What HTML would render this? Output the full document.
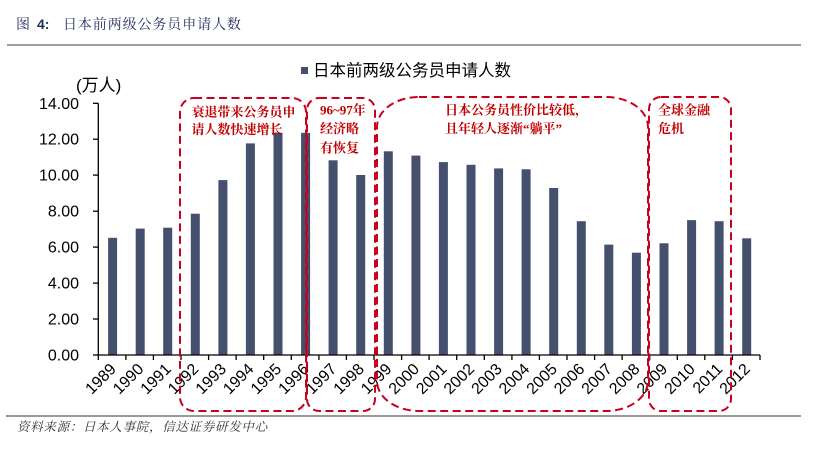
<!DOCTYPE html>
<html>
<head>
<meta charset="utf-8">
<style>
  html, body { margin:0; padding:0; background:#fff; }
  body { width:822px; height:451px; overflow:hidden; }
  svg { display:block; }
  .ax { font-family:"Liberation Sans", Arial, sans-serif; font-size:16px; fill:#000; }
  .ann { font-family:"Liberation Serif", "Noto Serif CJK SC", serif; font-size:13px; font-weight:bold; fill:#c00000; }
</style>
</head>
<body>
<svg width="822" height="451" viewBox="0 0 822 451" xmlns="http://www.w3.org/2000/svg">
  <!-- Title -->
  <text x="16" y="29" font-family="'Noto Serif CJK SC', serif" font-size="14" fill="#1f2f5e">图</text>
  <text x="37" y="29" font-family="'Liberation Sans', sans-serif" font-size="14" font-weight="bold" fill="#1f2f5e">4:</text>
  <text x="63" y="29" font-family="'Liberation Serif','Noto Serif CJK SC', serif" font-size="14" letter-spacing="0.9" fill="#1f2f5e">日本前两级公务员申请人数</text>
  <line x1="7" y1="45" x2="801" y2="45" stroke="#666" stroke-width="1.3"/>

  <!-- Legend -->
  <rect x="301" y="67" width="7" height="7" fill="#454f6e"/>
  <text x="313" y="76" font-family="'Liberation Sans','Noto Sans CJK SC', sans-serif" font-size="16.5" fill="#000">日本前两级公务员申请人数</text>

  <!-- Unit -->
  <text x="76" y="91" font-family="'Liberation Sans','Noto Sans CJK SC', sans-serif" font-size="17" fill="#000">(万人)</text>

  <!-- Y labels -->
  <g class="ax" text-anchor="end">
    <text x="79" y="360.5">0.00</text>
    <text x="79" y="324.5">2.00</text>
    <text x="79" y="288.6">4.00</text>
    <text x="79" y="252.6">6.00</text>
    <text x="79" y="216.7">8.00</text>
    <text x="79" y="180.6">10.00</text>
    <text x="79" y="144.7">12.00</text>
    <text x="79" y="108.8">14.00</text>
  </g>

  <!-- Bars -->
  <g fill="#454f6e">
    <rect x="108.1" y="237.8" width="9" height="117.2"/>
    <rect x="135.7" y="228.6" width="9" height="126.4"/>
    <rect x="163.2" y="227.7" width="9" height="127.3"/>
    <rect x="190.8" y="213.7" width="9" height="141.3"/>
    <rect x="218.4" y="180.1" width="9" height="174.9"/>
    <rect x="245.9" y="143.4" width="9" height="211.6"/>
    <rect x="273.5" y="132.8" width="9" height="222.2"/>
    <rect x="301.1" y="132.8" width="9" height="222.2"/>
    <rect x="328.6" y="160.3" width="9" height="194.7"/>
    <rect x="356.2" y="175.0" width="9" height="180.0"/>
    <rect x="383.8" y="151.3" width="9" height="203.7"/>
    <rect x="411.4" y="155.6" width="9" height="199.4"/>
    <rect x="438.9" y="162.1" width="9" height="192.9"/>
    <rect x="466.5" y="164.8" width="9" height="190.2"/>
    <rect x="494.1" y="168.4" width="9" height="186.6"/>
    <rect x="521.6" y="169.3" width="9" height="185.7"/>
    <rect x="549.2" y="188.0" width="9" height="167.0"/>
    <rect x="576.8" y="221.2" width="9" height="133.8"/>
    <rect x="604.3" y="244.6" width="9" height="110.4"/>
    <rect x="631.9" y="252.7" width="9" height="102.3"/>
    <rect x="659.5" y="243.3" width="9" height="111.7"/>
    <rect x="687.1" y="220.1" width="9" height="134.9"/>
    <rect x="714.6" y="221.2" width="9" height="133.8"/>
    <rect x="742.2" y="238.3" width="9" height="116.7"/>
  </g>

  <!-- Axes -->
  <g stroke="#000" stroke-width="1.3" fill="none">
    <line x1="98.3" y1="103.3" x2="98.3" y2="355"/>
    <line x1="98.3" y1="355" x2="760" y2="355"/>
    <line x1="93" y1="355" x2="98.3" y2="355"/>
    <line x1="93" y1="319" x2="98.3" y2="319"/>
    <line x1="93" y1="283.1" x2="98.3" y2="283.1"/>
    <line x1="93" y1="247.1" x2="98.3" y2="247.1"/>
    <line x1="93" y1="211.2" x2="98.3" y2="211.2"/>
    <line x1="93" y1="175.1" x2="98.3" y2="175.1"/>
    <line x1="93" y1="139.2" x2="98.3" y2="139.2"/>
    <line x1="93" y1="103.3" x2="98.3" y2="103.3"/>
    <path d="M98.3 355v5 M125.9 355v5 M153.4 355v5 M181 355v5 M208.6 355v5 M236.1 355v5 M263.7 355v5 M291.3 355v5 M318.9 355v5 M346.4 355v5 M374 355v5 M401.6 355v5 M429.1 355v5 M456.7 355v5 M484.3 355v5 M511.9 355v5 M539.4 355v5 M567 355v5 M594.6 355v5 M622.1 355v5 M649.7 355v5 M677.3 355v5 M704.8 355v5 M732.4 355v5 M760 355v5"/>
  </g>

  <!-- X labels -->
  <g class="ax" text-anchor="end">
    <text transform="translate(116.9,370) rotate(-45)">1989</text>
    <text transform="translate(144.5,370) rotate(-45)">1990</text>
    <text transform="translate(172.0,370) rotate(-45)">1991</text>
    <text transform="translate(199.6,370) rotate(-45)">1992</text>
    <text transform="translate(227.2,370) rotate(-45)">1993</text>
    <text transform="translate(254.7,370) rotate(-45)">1994</text>
    <text transform="translate(282.3,370) rotate(-45)">1995</text>
    <text transform="translate(309.9,370) rotate(-45)">1996</text>
    <text transform="translate(337.4,370) rotate(-45)">1997</text>
    <text transform="translate(365.0,370) rotate(-45)">1998</text>
    <text transform="translate(392.6,370) rotate(-45)">1999</text>
    <text transform="translate(420.2,370) rotate(-45)">2000</text>
    <text transform="translate(447.7,370) rotate(-45)">2001</text>
    <text transform="translate(475.3,370) rotate(-45)">2002</text>
    <text transform="translate(502.9,370) rotate(-45)">2003</text>
    <text transform="translate(530.4,370) rotate(-45)">2004</text>
    <text transform="translate(558.0,370) rotate(-45)">2005</text>
    <text transform="translate(585.6,370) rotate(-45)">2006</text>
    <text transform="translate(613.1,370) rotate(-45)">2007</text>
    <text transform="translate(640.7,370) rotate(-45)">2008</text>
    <text transform="translate(668.3,370) rotate(-45)">2009</text>
    <text transform="translate(695.9,370) rotate(-45)">2010</text>
    <text transform="translate(723.4,370) rotate(-45)">2011</text>
    <text transform="translate(751.0,370) rotate(-45)">2012</text>
  </g>

  <!-- Dashed annotation boxes -->
  <g fill="none" stroke="#c8001e" stroke-width="2" stroke-dasharray="8 4.5">
    <rect x="180" y="98" width="126" height="313" rx="14" ry="14"/>
    <rect x="307" y="98" width="68" height="313" rx="12" ry="12"/>
    <rect x="377" y="97" width="271" height="314" rx="42" ry="30"/>
    <rect x="649" y="97" width="82" height="314" rx="12" ry="12"/>
  </g>

  <!-- Annotation text -->
  <g class="ann">
    <text x="191.5" y="116.5">衰退带来公务员申</text>
    <text x="191.5" y="134">请人数快速增长</text>
    <text x="320" y="114.5">96~97年</text>
    <text x="320" y="133">经济略</text>
    <text x="320" y="152.5">有恢复</text>
    <text x="445" y="114.5">日本公务员性价比较低，</text>
    <text x="445" y="133">且年轻人逐渐“躺平”</text>
    <text x="658" y="114.5">全球金融</text>
    <text x="658" y="133">危机</text>
  </g>

  <!-- Source -->
  <line x1="6" y1="416" x2="801" y2="416" stroke="#333" stroke-width="1"/>
  <text x="17" y="431" font-family="'Liberation Serif','Noto Serif CJK SC', serif" font-size="12.5" font-style="italic" letter-spacing="0.7" fill="#333">资料来源：日本人事院，信达证券研发中心</text>
</svg>
</body>
</html>
